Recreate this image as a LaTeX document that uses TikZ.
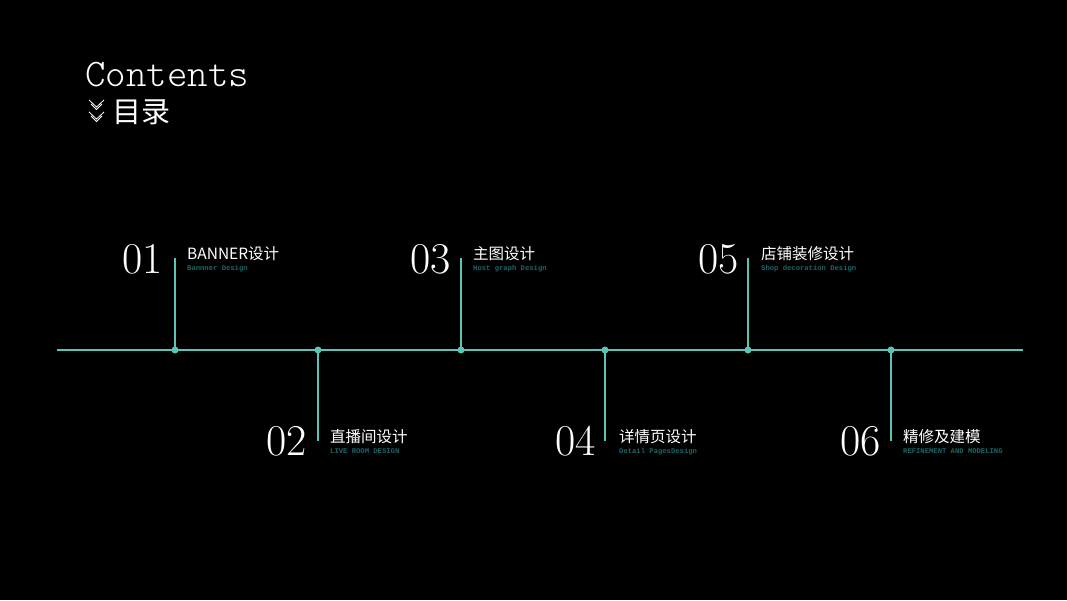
\documentclass[tikz,border=0pt]{standalone}
\usepackage{fontspec}
\newfontfamily\cjk{Noto Sans CJK SC}
\newfontfamily\subfont{Liberation Mono}
\newfontfamily\lightmono{Latin Modern Mono Light}
\definecolor{teal1}{HTML}{5CC3B9}
\definecolor{teal2}{HTML}{1D6668}
\begin{document}
\begin{tikzpicture}[x=1pt,y=-1pt,
  line/.style={draw=teal1,line width=1.3pt},
  dot/.style={circle,fill=teal1,inner sep=0pt,minimum size=7pt},
  num/.style={font=\rmfamily\fontsize{44}{44}\selectfont,text=white,inner sep=0pt,anchor=base east},
  ttl/.style={font=\cjk\fontsize{15.5}{16}\selectfont,text=white,inner sep=0pt,anchor=base west},
  sub/.style={font=\subfont\bfseries\fontsize{7.2}{8}\selectfont,text=teal2,inner sep=0pt,anchor=base west}]
\fill[black] (0,0) rectangle (1067,600);
\useasboundingbox (0,0) rectangle (1067,600);
% header
\node[font=\lightmono\fontsize{39}{40}\selectfont,text=white,inner sep=0pt,anchor=base west] (contents) at (85,86) {Contents};
\node[font=\cjk\fontsize{29}{30}\selectfont,text=white,inner sep=0pt,anchor=west] (mulu) at (112,112) {目录};
\draw[white,line width=0.8pt] (89,100)--(96.5,107)--(104,100) (91,104)--(96.5,109.5)--(102,104);
\draw[white,line width=0.8pt] (89,112)--(96.5,119)--(104,112) (91,116)--(96.5,121.5)--(102,116);
% main line
\coordinate (L) at (57,350);
\coordinate (R) at (1023,350);
\draw[line] (L) -- (R);
% dots
\node[dot] (d1) at (175,350) {};
\node[dot] (d2) at (318,350) {};
\node[dot] (d3) at (461,350) {};
\node[dot] (d4) at (605,350) {};
\node[dot] (d5) at (748,350) {};
\node[dot] (d6) at (891,350) {};
% stems
\coordinate (t1) at (175,258);
\coordinate (t3) at (461,258);
\coordinate (t5) at (748,258);
\coordinate (t2) at (318,441);
\coordinate (t4) at (605,441);
\coordinate (t6) at (891,441);
\draw[line] (d1.center) -- (t1);
\draw[line] (d3.center) -- (t3);
\draw[line] (d5.center) -- (t5);
\draw[line] (d2.center) -- (t2);
\draw[line] (d4.center) -- (t4);
\draw[line] (d6.center) -- (t6);
% upper items
\node[num] (n1) at (163,273) {01};
\node[ttl] (a1) at (187,259.5) {BANNER设计};
\node[sub] (s1) at (187,270.5) {Bannner Design};
\node[num] (n3) at (451,273) {03};
\node[ttl] (a3) at (473,259.5) {主图设计};
\node[sub] (s3) at (473,270.5) {Host graph Design};
\node[num] (n5) at (739,273) {05};
\node[ttl] (a5) at (761,259.5) {店铺装修设计};
\node[sub] (s5) at (761,270.5) {Shop decoration Design};
% lower items
\node[num] (n2) at (307,455) {02};
\node[ttl] (a2) at (330,442) {直播间设计};
\node[sub] (s2) at (330,453) {LIVE ROOM DESIGN};
\node[num] (n4) at (596,455) {04};
\node[ttl] (a4) at (619,442) {详情页设计};
\node[sub] (s4) at (619,453) {Detail PagesDesign};
\node[num] (n6) at (881,455) {06};
\node[ttl] (a6) at (903,442) {精修及建模};
\node[sub] (s6) at (903,453) {REFINEMENT AND MODELING};
\end{tikzpicture}
\end{document}
